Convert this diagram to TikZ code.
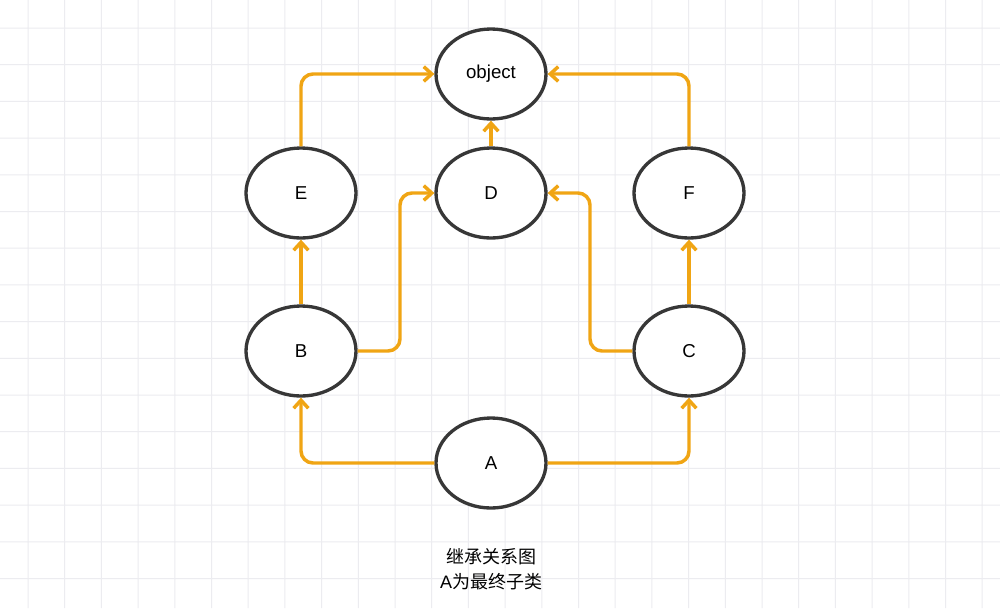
\documentclass[tikz,border=0pt]{standalone}
\usepackage{fontspec}
\setmainfont{Liberation Sans}
\newfontfamily\cjk{Noto Sans CJK SC}
\usetikzlibrary{shapes.geometric,arrows.meta}
\definecolor{org}{RGB}{240,165,20}
\definecolor{gridc}{RGB}{236,236,240}
\tikzset{
  cls/.style={ellipse,draw={rgb,255:red,55;green,55;blue,55},line width=2.5pt,fill=white,minimum width=82.5pt,minimum height=67.5pt,inner sep=0pt,font=\fontsize{14}{16}\selectfont},
  inh/.style={draw=org,line width=2.6pt,rounded corners=9pt,-{Straight Barb[length=6pt,width=11pt,line width=2.6pt]}}
}
\begin{document}
\begin{tikzpicture}[x=0.75pt,y=-0.75pt]
\useasboundingbox (0,0) rectangle (1000,608);
\fill[white] (0,0) rectangle (1000,608);
\fill[gridc]
  \foreach \i in {0,...,26} { ({27.5+36.7*\i},0) rectangle ({28.5+36.7*\i},608) }
  \foreach \j in {0,...,15} { (0,{27.5+36.7*\j}) rectangle (1000,{28.5+36.7*\j}) };
\node[cls] (obj) at (491,74) {object};
\node[cls] (D) at (491,193) {D};
\node[cls] (E) at (301,193) {E};
\node[cls] (F) at (689,193) {F};
\node[cls] (B) at (301,351) {B};
\node[cls] (C) at (689,351) {C};
\node[cls] (A) at (491,463) {A};
\draw[inh] (E.north) |- (obj.west);
\draw[inh] (F.north) |- (obj.east);
\draw[inh] (D.north) -- (obj.south);
\draw[inh] (B.east) -- (400,351) |- (D.west);
\draw[inh] (C.west) -- (590,351) |- (D.east);
\draw[inh] (A.west) -| (B.south);
\draw[inh] (A.east) -| (C.south);
\draw[inh] (B.north) -- (E.south);
\draw[inh] (C.north) -- (F.south);
\node[align=center,font=\fontsize{13.5}{19}\selectfont] (cap) at (491,569) {{\cjk 继承关系图}\\A{\cjk 为最终子类}};
\end{tikzpicture}
\end{document}
